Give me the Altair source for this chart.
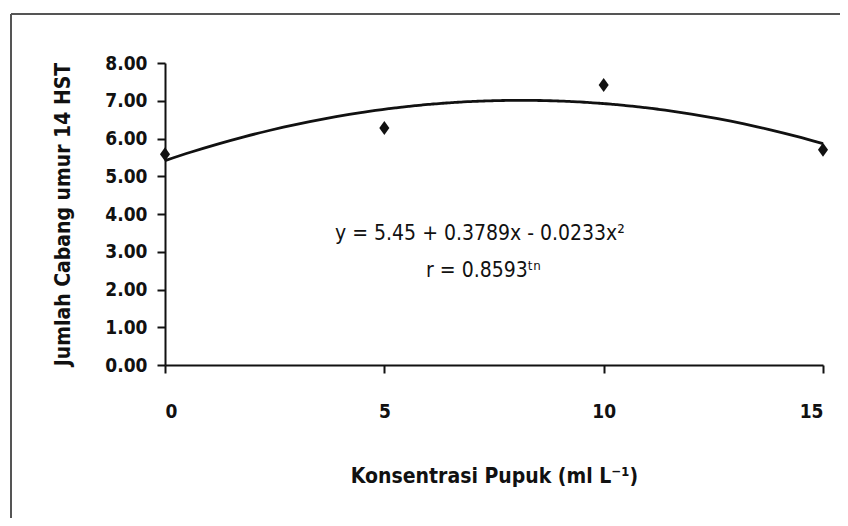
import altair as alt
import pandas as pd

# Data
konsentrasi = [0, 5, 10, 15]
jumlah_cabang = [5.58, 6.28, 7.42, 5.70]

x_ticks = [0, 5, 10, 15]
y_ticks = [0, 1, 2, 3, 4, 5, 6, 7, 8]

eq_text = ["y = 5.45 + 0.3789x - 0.0233x\u00b2", "r = 0.8593\u1d57\u207f"]
eq_x = [7.18, 7.26]
eq_y = [3.47, 2.49]

df = pd.DataFrame({"x": konsentrasi, "y": jumlah_cabang})
df_txt = pd.DataFrame({"t": eq_text, "x": eq_x, "y": eq_y})

FONT = "DejaVu Sans Condensed, Liberation Sans Narrow, Liberation Sans"

xscale = alt.Scale(domain=[0, 15], nice=False, zero=False)
yscale = alt.Scale(domain=[0, 8], nice=False)

xaxis = alt.Axis(values=x_ticks, title="Konsentrasi Pupuk (ml L\u207b\u00b9)", grid=False,
                 labelPadding=29, tickSize=8, titlePadding=44, format="d",
                 labelOverlap=False)
yaxis = alt.Axis(values=y_ticks, title="Jumlah Cabang umur 14 HST", grid=False,
                 format=".2f", tickSize=8, labelPadding=10, titlePadding=31,
                 labelOverlap=False)

X = alt.X("x:Q", scale=xscale, axis=xaxis)
Y = alt.Y("y:Q", scale=yscale, axis=yaxis)

base = alt.Chart(df)

one = pd.DataFrame({"a": [0]})
frame_top = alt.Chart(one).mark_rule(color="#555555", strokeWidth=2, clip=False).encode(
    x=alt.value(-154), x2=alt.value(2000), y=alt.value(-49))
frame_left = alt.Chart(one).mark_rule(color="#555555", strokeWidth=2, clip=False).encode(
    x=alt.value(-154), y=alt.value(-49), y2=alt.value(2000))

curve = base.transform_regression(
    "x", "y", method="poly", order=2, extent=[0, 15]
).mark_line(color="#111111", strokeWidth=2.8, interpolate="monotone").encode(x=X, y=Y)

points = base.mark_point(shape="M0,-1.25L0.9,0L0,1.25L-0.9,0Z", filled=True,
                         color="#111111", size=125, opacity=1).encode(x=X, y=Y)

text = alt.Chart(df_txt).mark_text(font=FONT, fontSize=21, color="#111111", align="center", baseline="middle").encode(
    x=X, y=Y, text="t:N")

chart = alt.layer(frame_top, frame_left, curve, points, text).properties(
    width=658, height=302,
    autosize=alt.AutoSizeParams(type="none"),
    padding={"left": 157, "top": 55, "right": 17, "bottom": 153},
).configure_view(stroke=None).configure_axis(
    domainColor="#111111", domainWidth=2, tickColor="#111111", tickWidth=2,
    labelFont=FONT, labelFontSize=19, labelColor="#111111", labelFontWeight="bold",
    titleFont=FONT, titleFontSize=21, titleColor="#111111", titleFontWeight="bold",
)

chart.save("out.html", embed_options={"renderer": "svg", "actions": False})
